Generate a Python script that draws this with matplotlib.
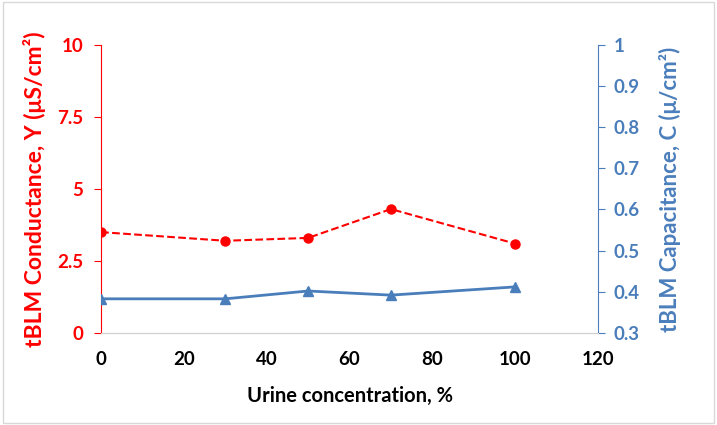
import matplotlib.pyplot as plt
from matplotlib.patches import Rectangle

urine = [0, 30, 50, 70, 100]
conductance = [3.5, 3.2, 3.3, 4.3, 3.1]
capacitance = [0.383, 0.383, 0.402, 0.392, 0.412]

red = '#ff0000'
blue = '#4a7ebb'
fam = ['Lato', 'DejaVu Sans']

fig = plt.figure(figsize=(7.17, 4.25), dpi=100)
fig.patches.append(Rectangle((0.004, 0.004), 0.992, 0.992, transform=fig.transFigure,
                             fill=False, edgecolor='#d9d9d9', lw=1))
ax = fig.add_axes([0.141, 0.2165, 0.693, 0.678])
ax2 = ax.twinx()

ax.plot(urine, conductance, '--', color=red, lw=1.5, marker='o', ms=6.5, zorder=3)
ax2.plot(urine, capacitance, '-', color=blue, lw=2, marker='^', ms=7.5, zorder=3)

ax.set_xlim(0, 120)
ax.set_ylim(0, 10)
ax2.set_ylim(0.3, 1)
ax.set_xticks(range(0, 121, 20))
ax.set_yticks([0, 2.5, 5, 7.5, 10])
ax.set_yticklabels(['0', '2.5', '5', '7.5', '10'])
ax2.set_yticks([0.3, 0.4, 0.5, 0.6, 0.7, 0.8, 0.9, 1.0])
ax2.set_yticklabels(['0.3', '0.4', '0.5', '0.6', '0.7', '0.8', '0.9', '1'])

for a in (ax, ax2):
    a.spines['top'].set_visible(False)
    a.spines['bottom'].set_color('#d0d0d0')
ax.spines['right'].set_visible(False)
ax2.spines['left'].set_visible(False)
ax.spines['left'].set_color(red)
ax2.spines['right'].set_color(blue)

ax.tick_params(axis='x', length=0, pad=13, labelsize=13.5)
ax.tick_params(axis='y', colors=red, length=5, labelsize=13.5, pad=8)
ax2.tick_params(axis='y', colors=blue, length=5, labelsize=13.5, pad=6)
for lab in ax.get_xticklabels() + ax.get_yticklabels() + ax2.get_yticklabels():
    lab.set_fontweight('bold')
    lab.set_family(fam)

ax.set_xlabel('Urine concentration, %', fontsize=14.5, fontweight='bold', family=fam, labelpad=13)
ax.set_ylabel('tBLM Conductance, Y (μS/cm²)', fontsize=16.5, fontweight='bold',
              color=red, family=fam, labelpad=8)
ax2.set_ylabel('tBLM Capacitance, C (μ/cm²)', fontsize=16, fontweight='bold',
               color=blue, family=fam, labelpad=14)

fig.savefig('out.png', dpi=100)
